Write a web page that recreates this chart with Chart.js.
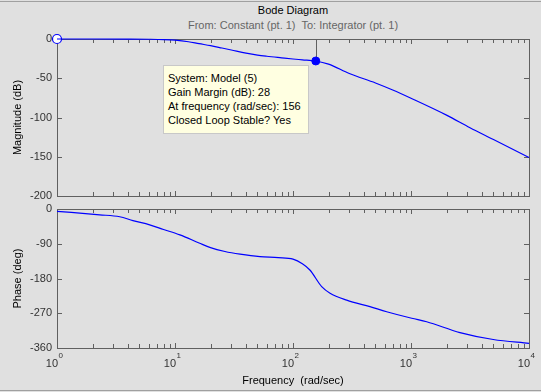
<!DOCTYPE html>
<html>
<head>
<meta charset="utf-8">
<script src="https://cdn.jsdelivr.net/npm/chart.js@4.4.0/dist/chart.umd.min.js"></script>
<style>
    body { margin: 0; background: #e0e0e0; width: 541px; height: 392px; overflow: hidden; position: relative; font-family: Arial, "Liberation Sans", sans-serif; }
    .edge { position: absolute; left: 0; width: 541px; height: 1px; background: #a0a0a0; }
    #title { position: absolute; left: 0; width: 586px; top: 4px; text-align: center; font-size: 11px; color: #000; }
    #subtitle { position: absolute; left: 0; width: 586px; top: 19px; text-align: center; font-size: 11px; color: #666; white-space: pre; }
    #xlabel { position: absolute; left: 0; width: 586px; top: 374px; text-align: center; font-size: 11px; color: #000; white-space: pre; }
    #magChart { position: absolute; left: 0; top: 0; }
    #phaseChart { position: absolute; left: 0; top: 200px; }
    #note { position: absolute; left: 163px; top: 65px; width: 140px; height: 62px; padding: 5px 0 0 4px; background: #ffffe1; border: 1px solid #c8c8c8; font-size: 11px; line-height: 14px; color: #000; white-space: nowrap; }
</style>
</head>
<body>
<div class="edge" style="top:1px"></div>
<div class="edge" style="top:390px"></div>
<div id="title">Bode Diagram</div>
<div id="subtitle">From: Constant (pt. 1)  To: Integrator (pt. 1)</div>
<canvas id="magChart" width="541" height="206"></canvas>
<canvas id="phaseChart" width="541" height="192"></canvas>
<div id="xlabel">Frequency  (rad/sec)</div>
<div id="note"></div>

<script>
// magnitude curve (rad/sec, dB)
const magFreq = [1, 2, 4, 6, 8, 10, 13, 16, 20, 25, 30, 40, 50, 60, 80, 100, 120, 156, 200, 300, 500, 700, 1000, 2000, 3162, 5000, 10000];
const magDb = [0, 0, -0.1, -0.3, -0.7, -1.5, -3.5, -6, -8.5, -11.5, -14, -18, -20.5, -22, -24, -25.5, -26.5, -28, -32, -44, -56, -65, -75.5, -97, -113, -128, -151];

// phase curve (rad/sec, deg)
const phaseFreq = [1, 2.3, 3.4, 4.4, 6.1, 8, 11, 16, 20, 26.5, 35.6, 52.5, 75, 100, 120, 139, 175, 206, 285, 449, 622, 1014, 1358, 2600, 4977, 10000];
const phaseDeg = [-6, -15, -20, -30, -41, -53, -67, -88, -100, -110, -117, -123.5, -126, -130, -142, -158, -201, -218, -236, -253, -266, -283, -292, -320, -338, -348];

// gain margin point
const gmFreq = 156;
const gmDb = -28;
const noteLines = ["System: Model (5)", "Gain Margin (dB): 28", "At frequency (rad/sec): 156", "Closed Loop Stable? Yes"];

const magTicks = [0, -50, -100, -150, -200];
const phaseTicks = [0, -90, -180, -270, -360];
const decades = [0, 1, 2, 3, 4];

document.getElementById("note").innerHTML = noteLines.join("<br>");

const frameColor = "#606060";
const labelColor = "#333";
const lineBlue = "#0000ff";
const fontFamily = "Arial, 'Liberation Sans', sans-serif";

function toPoints(xs, ys) {
    return xs.map((x, i) => ({ x: x, y: ys[i] }));
}

// box + inward ticks, like the matlab axes
const framePlugin = {
    id: "frame",
    beforeDatasetsDraw(chart) {
        const ctx = chart.ctx;
        const a = chart.chartArea;
        const xs = chart.scales.x;
        const ys = chart.scales.y;
        ctx.save();
        ctx.strokeStyle = frameColor;
        ctx.lineWidth = 1;
        ctx.strokeRect(Math.round(a.left) + 0.5, Math.round(a.top) + 0.5, Math.round(a.right - a.left), Math.round(a.bottom - a.top));
        ctx.beginPath();
        for (let d = 0; d < 4; d++) {
            for (let m = 1; m <= 10; m++) {
                const px = Math.round(xs.getPixelForValue(m * Math.pow(10, d))) + 0.5;
                const len = (m === 1 || m === 10) ? 5 : 4;
                ctx.moveTo(px, a.top);
                ctx.lineTo(px, a.top + len);
                ctx.moveTo(px, a.bottom);
                ctx.lineTo(px, a.bottom - len);
            }
        }
        chart.options.tickValues.forEach(v => {
            const py = Math.round(ys.getPixelForValue(v)) + 0.5;
            ctx.moveTo(a.left, py);
            ctx.lineTo(a.left + 5, py);
            ctx.moveTo(a.right, py);
            ctx.lineTo(a.right - 5, py);
        });
        ctx.stroke();
        ctx.restore();
    }
};

// gain margin stem from top of axes to the marker
const stemPlugin = {
    id: "stem",
    beforeDatasetsDraw(chart) {
        const ctx = chart.ctx;
        const px = Math.round(chart.scales.x.getPixelForValue(gmFreq)) + 0.5;
        const py = chart.scales.y.getPixelForValue(gmDb);
        ctx.save();
        ctx.strokeStyle = frameColor;
        ctx.lineWidth = 1;
        ctx.beginPath();
        ctx.moveTo(px, chart.chartArea.top);
        ctx.lineTo(px, py);
        ctx.stroke();
        ctx.restore();
    }
};

// 10^n labels under the phase axes
const decadeLabels = {
    id: "decadeLabels",
    afterDraw(chart) {
        const ctx = chart.ctx;
        const y0 = chart.chartArea.bottom;
        ctx.save();
        ctx.fillStyle = labelColor;
        ctx.textBaseline = "alphabetic";
        decades.forEach(p => {
            const px = chart.scales.x.getPixelForValue(Math.pow(10, p));
            ctx.font = "11px " + fontFamily;
            ctx.textAlign = "right";
            ctx.fillText("10", px + 1, y0 + 19);
            ctx.font = "8px " + fontFamily;
            ctx.textAlign = "left";
            ctx.fillText(String(p), px + 1.5, y0 + 10);
        });
        ctx.restore();
    }
};

function yAxis(title, min, max, step) {
    return {
        min: min,
        max: max,
        afterFit(s) {
            s.width = 57;
            s.paddingTop = 0;
            s.paddingBottom = 0;
        },
        grid: { display: false, drawTicks: false },
        border: { display: false },
        ticks: { stepSize: step, padding: 5, color: labelColor, font: { size: 11, family: fontFamily } },
        title: { display: true, text: title, color: "#000", padding: { top: 11, bottom: 0 }, font: { size: 11, family: fontFamily } }
    };
}

const xAxis = { type: "logarithmic", min: 1, max: 10000, display: false };

new Chart(document.getElementById("magChart"), {
    type: "line",
    data: {
        datasets: [
            { data: toPoints(magFreq, magDb), borderColor: lineBlue, borderWidth: 1.2, pointRadius: 0, cubicInterpolationMode: "monotone", clip: 3 },
            { data: [{ x: gmFreq, y: gmDb }], showLine: false, pointRadius: 4, pointBackgroundColor: lineBlue, pointBorderColor: lineBlue, clip: false },
            { data: [{ x: magFreq[0], y: magDb[0] }], showLine: false, pointRadius: 4.5, pointBackgroundColor: "#fff", pointBorderColor: lineBlue, pointBorderWidth: 1.2, clip: false }
        ]
    },
    options: {
        responsive: false,
        animation: false,
        tickValues: magTicks,
        layout: { padding: { top: 39, right: 12, bottom: 10, left: 0 } },
        plugins: { legend: { display: false }, tooltip: { enabled: false } },
        scales: { x: xAxis, y: yAxis("Magnitude (dB)", -200, 0, 50) }
    },
    plugins: [framePlugin, stemPlugin]
});

new Chart(document.getElementById("phaseChart"), {
    type: "line",
    data: {
        datasets: [
            { data: toPoints(phaseFreq, phaseDeg), borderColor: lineBlue, borderWidth: 1.2, pointRadius: 0, cubicInterpolationMode: "monotone", clip: 3 }
        ]
    },
    options: {
        responsive: false,
        animation: false,
        tickValues: phaseTicks,
        layout: { padding: { top: 9, right: 12, bottom: 44, left: 0 } },
        plugins: { legend: { display: false }, tooltip: { enabled: false } },
        scales: { x: xAxis, y: yAxis("Phase (deg)", -360, 0, 90) }
    },
    plugins: [framePlugin, decadeLabels]
});
</script>
</body>
</html>
